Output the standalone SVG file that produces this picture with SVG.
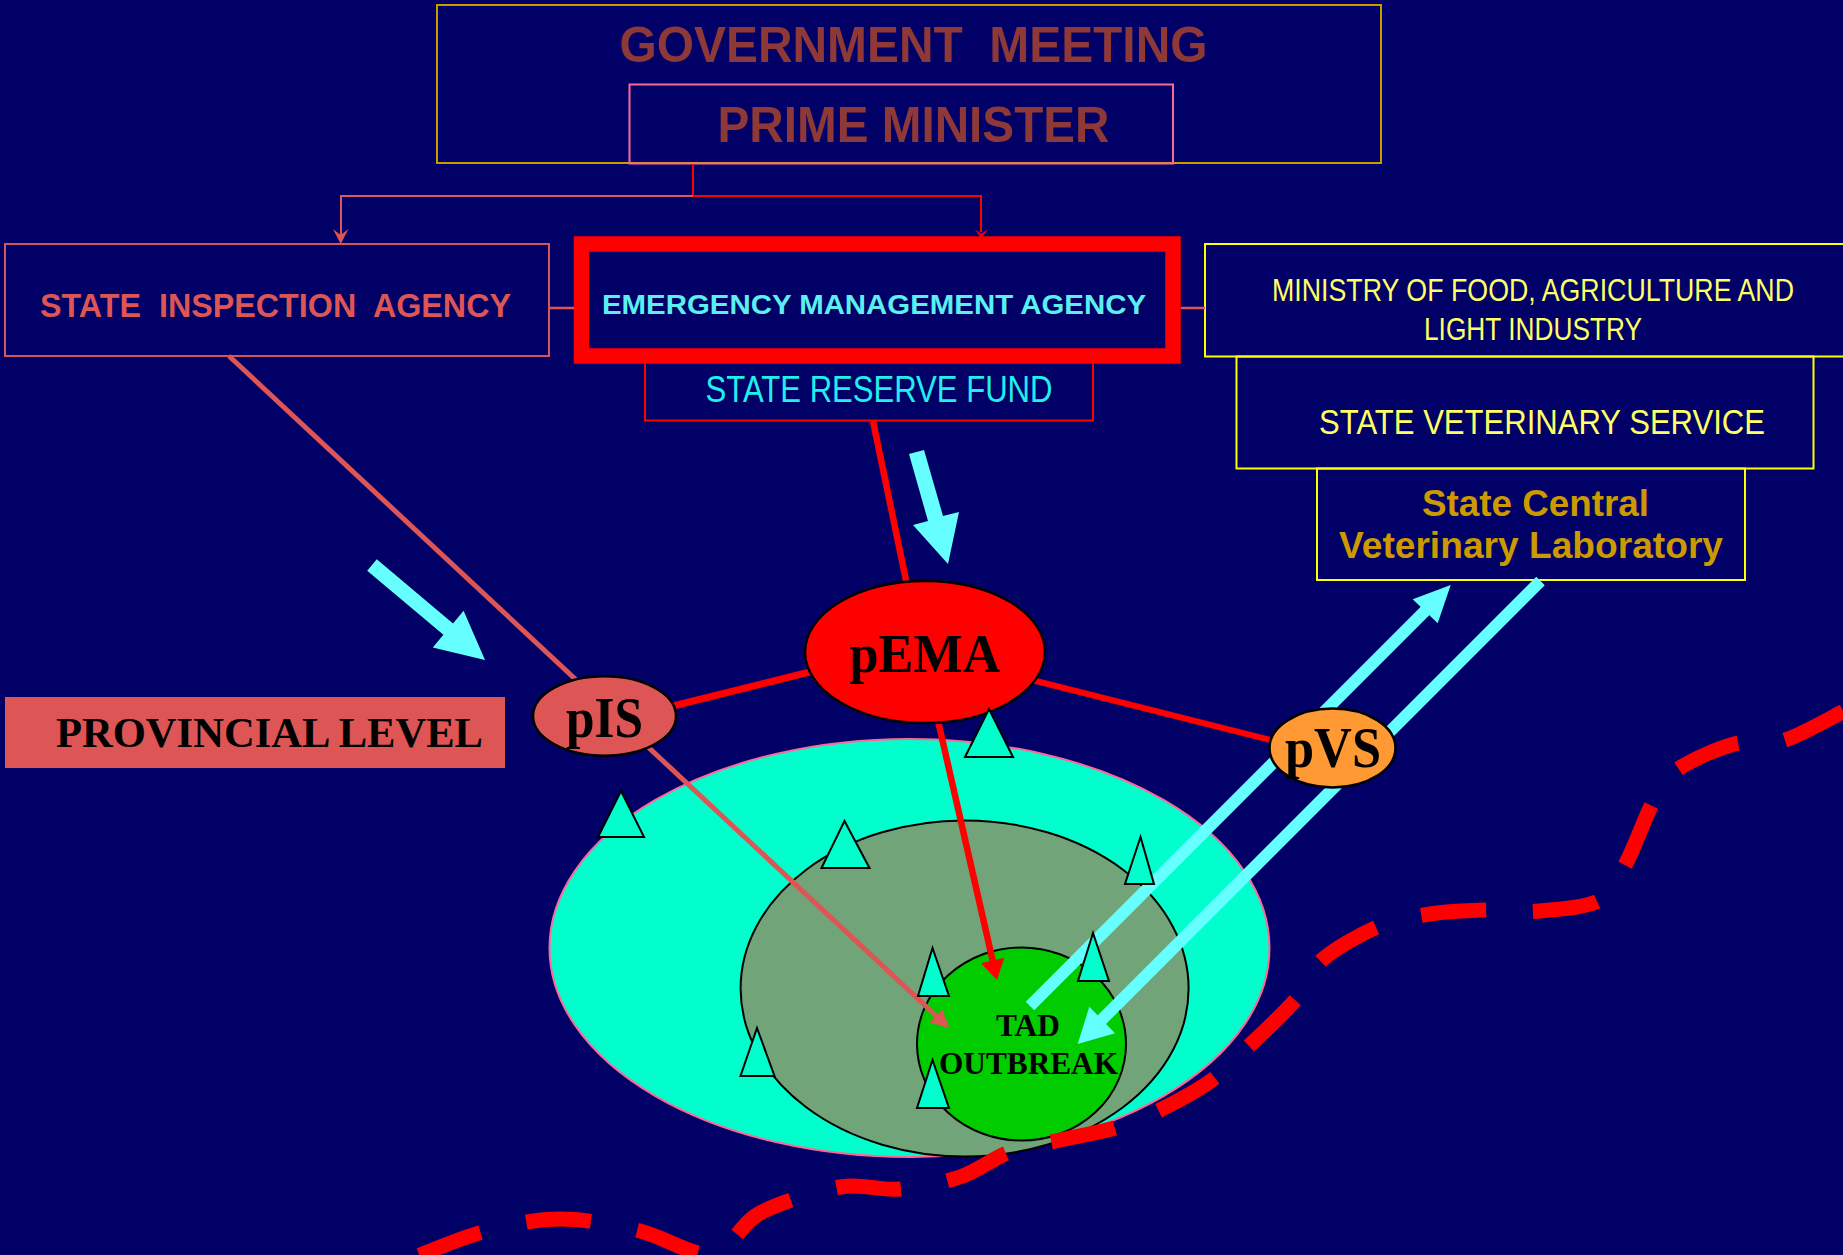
<svg xmlns="http://www.w3.org/2000/svg" width="1843" height="1255" viewBox="0 0 1843 1255">
<defs>
<style>
.sans{font-family:"Liberation Sans Narrow","Liberation Sans",Arial,sans-serif}
.serif{font-family:"Liberation Serif","Times New Roman",serif;font-weight:bold;fill:#000}
.frame{fill:none;stroke-width:2}
.tri{fill:#00FFCC;stroke:#000;stroke-width:2}
.node{stroke:#000;stroke-width:2.5}
.cyan{fill:#66FFFF}
.cline{fill:none;stroke:#66FFFF;stroke-width:12}
.red{fill:none;stroke:#FF0000}
.salmon{fill:none;stroke:#DD5555}
</style>
</defs>
<rect width="1843" height="1255" fill="#000066"/>

<g id="government-meeting">
<rect class="frame" x="437" y="5" width="944" height="158" stroke="#C89B00"/>
<text class="sans" x="913.5" y="61.5" text-anchor="middle" font-size="50" font-weight="bold" fill="#8E3838" textLength="588" lengthAdjust="spacingAndGlyphs" style="white-space:pre">GOVERNMENT  MEETING</text>
</g>
<g id="prime-minister">
<rect class="frame" x="629.5" y="84.5" width="543.5" height="79" stroke="#FF6699"/>
<text class="sans" x="913.5" y="141.5" text-anchor="middle" font-size="50" font-weight="bold" fill="#8E3838" textLength="392" lengthAdjust="spacingAndGlyphs">PRIME MINISTER</text>
</g>
<g id="state-inspection-agency">
<rect class="frame" x="5" y="244" width="544" height="112" stroke="#D95555"/>
<text class="sans" x="275.5" y="317" text-anchor="middle" font-size="33" font-weight="bold" fill="#DD5555" textLength="471" lengthAdjust="spacingAndGlyphs" style="white-space:pre">STATE  INSPECTION  AGENCY</text>
</g>
<g id="state-reserve-fund">
<rect class="frame" x="645" y="360" width="448" height="60.5" stroke="#FF0000"/>
<text class="sans" x="879" y="401.5" text-anchor="middle" font-size="36" fill="#22EEEE" textLength="347" lengthAdjust="spacingAndGlyphs">STATE RESERVE FUND</text>
</g>
<g id="emergency-management-agency">
<rect x="581.5" y="244" width="591.5" height="112" fill="#000066" stroke="#FF0000" stroke-width="15.5"/>
<text class="sans" x="874" y="314" text-anchor="middle" font-size="27" font-weight="bold" fill="#5CEFEF" textLength="544" lengthAdjust="spacingAndGlyphs">EMERGENCY MANAGEMENT AGENCY</text>
</g>
<g id="ministry">
<rect class="frame" x="1205" y="244" width="660" height="112.5" stroke="#FFFF00"/>
<text class="sans" x="1533" y="300.5" text-anchor="middle" font-size="31.5" fill="#FFFF66" textLength="522" lengthAdjust="spacingAndGlyphs">MINISTRY OF FOOD, AGRICULTURE AND</text>
<text class="sans" x="1533" y="340" text-anchor="middle" font-size="31.5" fill="#FFFF66" textLength="218" lengthAdjust="spacingAndGlyphs">LIGHT INDUSTRY</text>
</g>
<g id="state-veterinary-service">
<rect class="frame" x="1236.5" y="356.5" width="577" height="112" stroke="#FFFF00"/>
<text class="sans" x="1542" y="434" text-anchor="middle" font-size="35" fill="#FFFF66" textLength="446" lengthAdjust="spacingAndGlyphs">STATE VETERINARY SERVICE</text>
</g>
<g id="state-central-laboratory">
<rect class="frame" x="1317" y="468.5" width="428" height="111.5" stroke="#FFFF00"/>
<text class="sans" x="1535.5" y="516" text-anchor="middle" font-size="36" font-weight="bold" fill="#CC9900" textLength="227" lengthAdjust="spacingAndGlyphs">State Central</text>
<text class="sans" x="1531" y="558" text-anchor="middle" font-size="36" font-weight="bold" fill="#CC9900" textLength="384" lengthAdjust="spacingAndGlyphs">Veterinary Laboratory</text>
</g>
<g id="provincial-level">
<rect x="5" y="697" width="500" height="71" fill="#DD5555"/>
<text class="serif" x="269.5" y="747" text-anchor="middle" font-size="42" textLength="427" lengthAdjust="spacingAndGlyphs">PROVINCIAL LEVEL</text>
</g>

<g id="outbreak-zones">
<ellipse cx="909.5" cy="948" rx="360" ry="209" fill="#00FFCC" stroke="#FF6699" stroke-width="2"/>
<ellipse cx="964.6" cy="988.5" rx="224" ry="168" fill="#72A47A" stroke="#000" stroke-width="2"/>
<g id="tad-outbreak">
<ellipse cx="1021.5" cy="1044" rx="104.5" ry="96.5" fill="#00CC00" stroke="#000" stroke-width="2"/>
<text class="serif" x="1028" y="1036" text-anchor="middle" font-size="31" textLength="64" lengthAdjust="spacingAndGlyphs">TAD</text>
<text class="serif" x="1028.5" y="1074" text-anchor="middle" font-size="31" textLength="179" lengthAdjust="spacingAndGlyphs">OUTBREAK</text>
</g>
</g>

<g id="provincial-boundary">
<path d="M412,1258 C424,1254 458,1238.5 483,1232 C508,1225.5 534,1219 560,1219 C586,1219 615,1225 640,1231 C665,1237 692,1257 712,1254 C732,1251 739,1224 760,1213 C781,1202 817,1191 840,1187 C863,1183 880,1191 900,1189 C920,1187 942,1183 960,1177 C978,1171 993,1158 1010,1152 C1027,1146 1042.5,1144 1060,1140 C1077.5,1136 1098,1133 1115,1128 C1132,1123 1144,1118 1160,1110 C1176,1102 1197,1091 1212,1080 C1227,1069 1235,1059 1250,1045 C1265,1031 1288,1009 1300,995 C1312,981 1309.5,971 1322,960 C1334.5,949 1357,936 1375,928 C1393,920 1411,917 1430,914 C1449,911 1470,910.5 1488,910 C1506,909.5 1521,913 1540,911 C1559,909 1586,908 1600,900 C1614,892 1616,881 1625,865 C1634,849 1644,820 1652,804 C1660,788 1661,781 1675,771 C1689,761 1716,749 1734,744 C1752,739 1766,746 1785,740 C1804,734 1839,713 1850,708" fill="none" stroke="#FF0000" stroke-width="15" stroke-dasharray="65 47" stroke-dashoffset="-8"/>
</g>

<g id="connectors">
<path class="red" d="M693,164 V196 H981 V232" stroke-width="2"/>
<polygon points="974.5,229 981,238 988.5,229 981,234" fill="#FF0000"/>
<path class="salmon" d="M693,196 H341 V236" stroke-width="2"/>
<polygon points="333,229 340.7,244 348.5,229 340.7,235" fill="#DD5555"/>
<path class="salmon" d="M549,308 H574" stroke-width="2.5"/>
<path class="salmon" d="M1181,308 H1205" stroke-width="2.5"/>
<path class="salmon" d="M229,356 L938,1017.5" stroke-width="5"/>
<polygon points="949.3,1028.3 930,1022.6 936.1,1016 942.2,1009.4" fill="#DD5555"/>
<path class="red" d="M873,421 L908,590" stroke-width="6.5"/>
<path class="red" d="M665,708 L830,667" stroke-width="7"/>
<path class="red" d="M1020,677 L1290,745" stroke-width="6"/>
<path class="red" d="M936,712 L993,962" stroke-width="6.5"/>
<polygon points="997,980 1004.3,957.8 980.9,963.2" fill="#FF0000"/>
<path class="cline" d="M1030,1006 L1427,609"/>
<polygon class="cyan" points="1450.7,585 1412.7,599.3 1437.7,623.3"/>
<path class="cline" d="M1540.5,581 L1100,1021.5"/>
<polygon class="cyan" points="1077.7,1044 1089.3,1006.7 1115,1033.3"/>
<polygon class="cyan" points="376.8,559.3 453,623.4 463.6,610.7 485,660 432.8,647.5 443.4,634.8 367.2,570.7"/>
<polygon class="cyan" points="909,454 924,450 943,516 959,512 948,564 913,525 928,521"/>
</g>

<g id="pIS">
<ellipse class="node" cx="604.5" cy="716" rx="71.5" ry="39.7" fill="#DD5555"/>
<text class="serif" x="604.5" y="737" text-anchor="middle" font-size="56" textLength="77" lengthAdjust="spacingAndGlyphs">pIS</text>
</g>
<g id="pEMA">
<ellipse class="node" cx="925" cy="652" rx="120" ry="71" fill="#FF0000"/>
<text class="serif" x="925" y="672" text-anchor="middle" font-size="54" textLength="151" lengthAdjust="spacingAndGlyphs">pEMA</text>
</g>
<g id="pVS">
<ellipse class="node" cx="1332.5" cy="748" rx="63" ry="39.5" fill="#FF9933"/>
<text class="serif" x="1333" y="767" text-anchor="middle" font-size="56" textLength="96" lengthAdjust="spacingAndGlyphs">pVS</text>
</g>

<g id="markers">
<polygon class="tri" points="989,709 965,757 1013,757"/>
<polygon class="tri" points="621,791 598,837 644,837"/>
<polygon class="tri" points="844.5,821 821.5,868 869.5,868"/>
<polygon class="tri" points="1140.5,837 1125,884 1154,884"/>
<polygon class="tri" points="932.5,948 918,996 949,996"/>
<polygon class="tri" points="1093,933 1078,981 1109,981"/>
<polygon class="tri" points="757,1028 740.5,1076 774.5,1076"/>
<polygon class="tri" points="932.5,1060 917,1108 949,1108"/>
</g>
</svg>
